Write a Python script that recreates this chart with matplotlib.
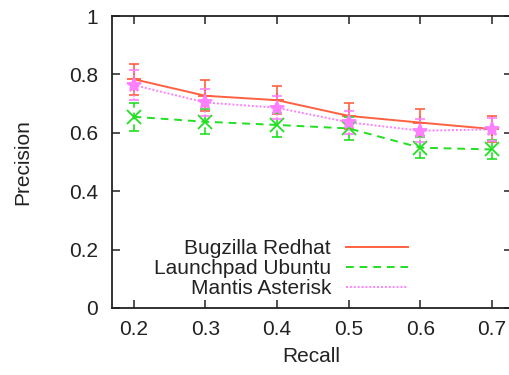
import matplotlib
matplotlib.use("Agg")
import matplotlib.pyplot as plt
from matplotlib.lines import Line2D

plt.rcParams['font.family'] = ['Liberation Sans', 'DejaVu Sans']

recall = [0.2, 0.3, 0.4, 0.5, 0.6, 0.7]
redhat = [0.784, 0.727, 0.712, 0.658, 0.635, 0.613]
redhat_err = [0.053, 0.053, 0.047, 0.045, 0.045, 0.043]
ubuntu = [0.655, 0.638, 0.627, 0.615, 0.549, 0.543]
ubuntu_err = [0.048, 0.042, 0.042, 0.040, 0.035, 0.034]
asterisk = [0.764, 0.704, 0.686, 0.636, 0.607, 0.612]
asterisk_err = [0.050, 0.045, 0.040, 0.040, 0.040, 0.040]
labels = ["Bugzilla Redhat", "Launchpad Ubuntu", "Mantis Asterisk"]

FS = 15
fig = plt.figure(figsize=(5.09, 3.75), dpi=100)
ax = fig.add_axes([0.22, 0.179, 0.785, 0.778])

series = [
    (redhat, redhat_err, '#ff6040', '-', '+'),
    (ubuntu, ubuntu_err, '#20e020', (0, (4, 3)), 'x'),
    (asterisk, asterisk_err, '#ff80ff', (0, (1, 1)), '*'),
]
handles = []
for (vals, errs, col, ls, mk), lab in zip(series, labels):
    ax.plot(recall, vals, color=col, linestyle=ls, linewidth=1.4,
            marker=mk, markersize=10, markeredgewidth=1.3, label=lab)
    eb = ax.errorbar(recall, vals, yerr=errs, fmt='none', ecolor=col,
                     elinewidth=1.2, capsize=3.5, capthick=1.2)
    for c in eb[2]:
        c.set_linestyle(ls)
    handles.append(Line2D([], [], color=col, linestyle=ls, linewidth=1.4))

ax.set_xlim(0.17, 0.727)
ax.set_ylim(0, 1)
ax.set_xticks(recall)
ax.set_xticklabels(['0.2', '0.3', '0.4', '0.5', '0.6', '0.7'])
ax.set_yticks([0, 0.2, 0.4, 0.6, 0.8, 1.0])
ax.set_yticklabels(['0', '0.2', '0.4', '0.6', '0.8', '1'])
ax.tick_params(direction='in', length=6, width=1.2, labelsize=FS,
               top=True, right=True, colors='#333333', labelcolor='#222222')
ax.tick_params(axis='y', pad=10)
ax.tick_params(axis='x', pad=9)
for s in ax.spines.values():
    s.set_linewidth(1.3)
    s.set_color('#222222')

ax.set_xlabel('Recall', fontsize=FS, color='#222222')
ax.set_ylabel('Precision', fontsize=FS, color='#222222')
ax.xaxis.set_label_coords(0.498, -0.135)
ax.yaxis.set_label_coords(-0.2, 0.5)

leg = ax.legend(handles, labels, loc='lower right', bbox_to_anchor=(0.762, 0.005),
                frameon=False, markerfirst=False, fontsize=FS, handlelength=3.0,
                labelspacing=0.05, handletextpad=0.7, borderaxespad=0.0)
for t in leg.get_texts():
    t.set_ha('right')
    t.set_color('#222222')
leg._legend_box.align = "right"

fig.savefig('out.png', dpi=100)
